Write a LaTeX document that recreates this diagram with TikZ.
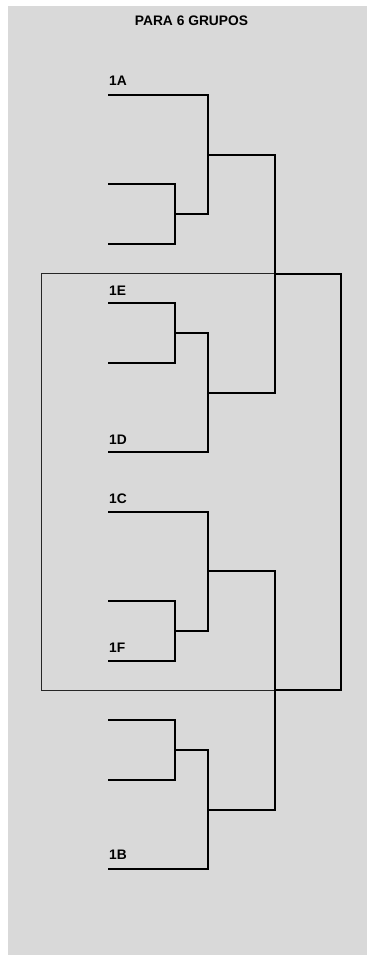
\documentclass[tikz,border=0pt]{standalone}
\usepackage{fontspec}
\setmainfont{Liberation Sans}
\begin{document}
\begin{tikzpicture}[x=1pt,y=-1pt,
  br/.style={line width=2.2pt, black},
  boxline/.style={line width=1pt, black!85},
  lab/.style={font=\bfseries\fontsize{13.8}{16}\selectfont, inner sep=0pt, anchor=base west}]
\useasboundingbox (0,0) rectangle (367,955);
\fill[fill={rgb,255:red,217;green,217;blue,217}] (8,6) rectangle (367,955);
\node[lab, anchor=base] (title) at (191.5,26) {PARA 6 GRUPOS};
% slot starts
\coordinate (s1) at (108,95);
\coordinate (s2) at (108,184);
\coordinate (s3) at (108,244);
\coordinate (s4) at (108,303);
\coordinate (s5) at (108,363);
\coordinate (s6) at (108,452);
\coordinate (s7) at (108,512);
\coordinate (s8) at (108,601);
\coordinate (s9) at (108,661);
\coordinate (s10) at (108,720);
\coordinate (s11) at (108,780);
\coordinate (s12) at (108,869);
% junctions
\coordinate (j1) at (175,214);
\coordinate (j2) at (208,155);
\coordinate (j3) at (175,333);
\coordinate (j4) at (208,393);
\coordinate (j5) at (275,274);
\coordinate (j6) at (175,631);
\coordinate (j7) at (208,571);
\coordinate (j8) at (175,750);
\coordinate (j9) at (208,810);
\coordinate (j10) at (275,690);
\coordinate (fin) at (341,482);
\coordinate (bx1) at (41.5,273.5);
\coordinate (bx2) at (341,690.5);
% thin box
\draw[boxline] (bx1) rectangle (bx2);
% labels
\node[lab] (l1A) at (109,86) {1A};
\node[lab] (l1E) at (109,295) {1E};
\node[lab] (l1D) at (109,444) {1D};
\node[lab] (l1C) at (109,503) {1C};
\node[lab] (l1F) at (109,652) {1F};
\node[lab] (l1B) at (109,859.5) {1B};
% brackets
\draw[br] (s2) -| (j1) |- (s3);
\draw[br] (s1) -| (j2) |- (j1);
\draw[br] (s4) -| (j3) |- (s5);
\draw[br] (j3) -| (j4) |- (s6);
\draw[br] (j2) -| (j5) |- (j4);
\draw[br] (s8) -| (j6) |- (s9);
\draw[br] (s7) -| (j7) |- (j6);
\draw[br] (s10) -| (j8) |- (s11);
\draw[br] (j8) -| (j9) |- (s12);
\draw[br] (j7) -| (j10) |- (j9);
\draw[br] (j5) -| (fin) |- (j10);
\end{tikzpicture}
\end{document}
